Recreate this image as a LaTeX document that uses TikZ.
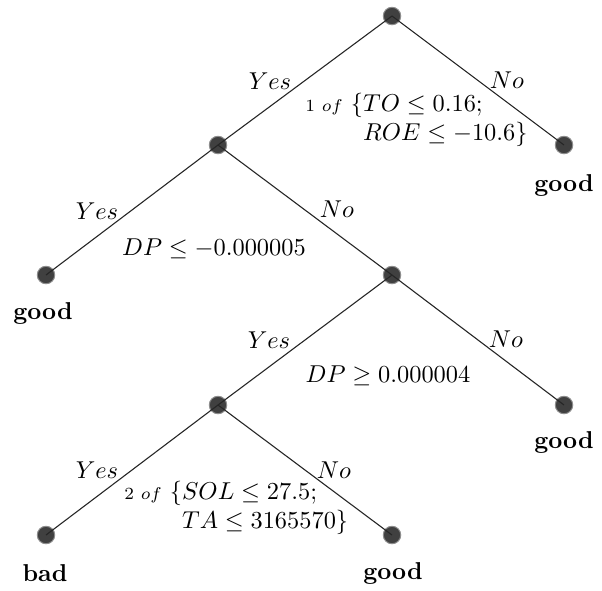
\documentclass[tikz,border=0pt]{standalone}
\begin{document}
\begin{tikzpicture}[x=0.41pt,y=-0.41pt,
  dot/.style={circle,inner sep=0pt,minimum size=17.5*0.41pt,fill=black!75,draw=black!45,line width=0.4pt},
  edge/.style={line width=0.45pt,draw=black!85},
  lab/.style={inner sep=0pt},
  leaf/.style={inner sep=0pt,font=\bfseries},
  cond/.style={inner sep=0pt,anchor=base west}]
\useasboundingbox (0,0) rectangle (602,590);
% nodes
\node[dot] (r) at (392,16) {};
\node[dot] (a) at (218,145) {};
\node[dot] (l1) at (564,145) {};
\node[dot] (l2) at (46,275) {};
\node[dot] (b) at (392,275) {};
\node[dot] (l3) at (564,405) {};
\node[dot] (c) at (218,405) {};
\node[dot] (l4) at (46,535) {};
\node[dot] (l5) at (392,535) {};
% edges
\draw[edge] (r.center) -- (a.center);
\draw[edge] (r.center) -- (l1.center);
\draw[edge] (a.center) -- (l2.center);
\draw[edge] (a.center) -- (b.center);
\draw[edge] (b.center) -- (c.center);
\draw[edge] (b.center) -- (l3.center);
\draw[edge] (c.center) -- (l4.center);
\draw[edge] (c.center) -- (l5.center);
% edge labels
\node[lab] (y1) at (270,81) {$Yes$};
\node[lab] (n1) at (507,80) {$No$};
\node[lab] (y2) at (97,211) {$Yes$};
\node[lab] (n2) at (337,209) {$No$};
\node[lab] (y3) at (269,340) {$Yes$};
\node[lab] (n3) at (506,339) {$No$};
\node[lab] (y4) at (97,470) {$Yes$};
\node[lab] (n4) at (334,470) {$No$};
% conditions
\node[cond] (c1) at (305,111) {\begin{tabular}[t]{@{}r@{}l@{}}{\scriptsize$1$ $of$} $\{$ & $TO \leq 0.16;$\\ & $ROE \leq -10.6\}$\end{tabular}};
\node[lab] (c2) at (214,249) {$DP \leq -0.000005$};
\node[lab] (c3) at (388,376) {$DP \geq 0.000004$};
\node[cond] (c4) at (124,499) {\begin{tabular}[t]{@{}r@{}l@{}}{\scriptsize$2$ $of$} $\{$ & $SOL \leq 27.5;$\\ & $TA \leq 3165570\}$\end{tabular}};
% leaf labels
\node[leaf] (g1) at (564,185) {good};
\node[leaf] (g2) at (43,313) {good};
\node[leaf] (g3) at (564,442) {good};
\node[leaf] (bd) at (45,573) {bad};
\node[leaf] (g4) at (393,573) {good};
\end{tikzpicture}
\end{document}
